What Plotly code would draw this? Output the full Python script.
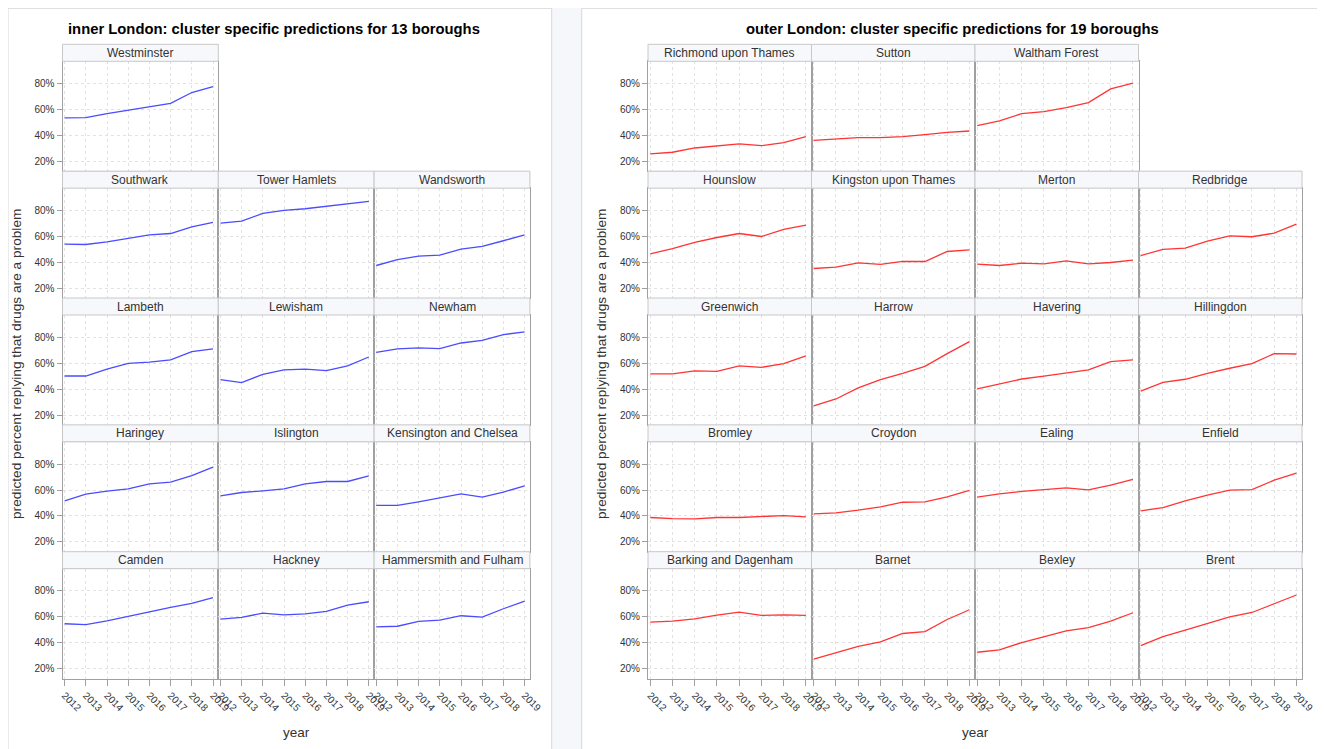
import plotly.graph_objects as go

years = [2012, 2013, 2014, 2015, 2016, 2017, 2018, 2019]
y_tick_vals = [20, 40, 60, 80]
y_tick_text = ["20%", "40%", "60%", "80%"]

# ---- inner London boroughs (predicted %) ----
westminster = [53.5, 53.7, 56.8, 59.4, 62.5, 64.8, 73.1, 77.7]
southwark = [54.0, 53.7, 55.8, 58.4, 61.2, 62.2, 67.4, 70.7]
tower_hamlets = [70.2, 71.8, 77.7, 80.0, 81.3, 83.1, 85.4, 87.0]
wandsworth = [37.5, 42.1, 44.7, 45.5, 50.1, 52.2, 56.6, 61.2]
lambeth = [50.1, 50.1, 55.5, 59.9, 60.9, 62.5, 68.9, 71.0]
lewisham = [47.3, 45.0, 51.4, 54.8, 55.5, 54.3, 57.9, 64.8]
newham = [68.4, 71.0, 71.8, 71.2, 75.6, 77.7, 82.1, 84.1]
haringey = [51.7, 56.8, 59.1, 60.9, 64.8, 66.1, 71.2, 77.7]
islington = [55.5, 58.1, 59.4, 60.9, 64.8, 66.6, 66.6, 71.0]
kensington_chelsea = [48.1, 48.1, 50.9, 54.0, 57.1, 54.5, 58.4, 63.3]
camden = [54.7, 54.1, 57.0, 60.6, 64.2, 67.3, 70.4, 74.8]
hackney = [58.3, 59.6, 62.9, 61.6, 62.4, 64.2, 69.1, 71.7]
hammersmith_fulham = [52.3, 52.8, 56.5, 57.5, 60.9, 59.8, 66.3, 72.2]

inner_names = ["Westminster", "Southwark", "Tower Hamlets", "Wandsworth",
               "Lambeth", "Lewisham", "Newham",
               "Haringey", "Islington", "Kensington and Chelsea",
               "Camden", "Hackney", "Hammersmith and Fulham"]
inner_series = [westminster, southwark, tower_hamlets, wandsworth,
                lambeth, lewisham, newham,
                haringey, islington, kensington_chelsea,
                camden, hackney, hammersmith_fulham]

# ---- outer London boroughs (predicted %) ----
richmond = [25.7, 27.0, 30.3, 31.6, 33.4, 32.1, 34.4, 39.1]
sutton = [36.2, 37.5, 38.3, 38.3, 39.1, 40.6, 42.4, 43.4]
waltham_forest = [47.6, 51.2, 56.8, 58.4, 61.5, 65.3, 75.9, 80.3]
hounslow = [46.5, 50.6, 55.3, 59.1, 62.2, 59.9, 65.3, 68.7]
kingston = [35.2, 36.2, 39.6, 38.3, 40.6, 40.6, 48.3, 49.6]
merton = [38.5, 37.5, 39.3, 38.8, 41.1, 38.8, 39.8, 41.6]
redbridge = [45.2, 49.9, 50.9, 56.3, 60.4, 59.7, 62.5, 69.4]
greenwich = [51.7, 51.7, 54.0, 53.7, 57.9, 56.8, 59.7, 65.6]
harrow = [27.0, 32.4, 40.9, 47.3, 52.2, 57.6, 67.4, 76.7]
havering = [40.1, 43.7, 47.8, 50.1, 52.2, 54.8, 61.2, 62.5]
hillingdon = [38.5, 45.2, 47.6, 52.2, 56.1, 59.7, 67.4, 67.1]
bromley = [38.8, 38.0, 37.8, 38.8, 38.8, 39.3, 40.3, 39.3]
croydon = [41.6, 42.4, 44.5, 47.0, 50.6, 50.9, 54.8, 59.7]
ealing = [54.5, 57.1, 58.9, 60.4, 61.7, 60.2, 63.8, 68.2]
enfield = [44.0, 46.5, 51.7, 56.1, 59.9, 60.4, 67.6, 73.1]
barking_dagenham = [55.9, 56.7, 58.5, 61.4, 63.7, 61.1, 61.6, 61.1]
barnet = [27.5, 32.2, 37.3, 40.7, 47.2, 48.7, 58.0, 65.5]
bexley = [32.7, 34.5, 40.2, 44.8, 49.2, 51.8, 56.7, 63.2]
brent = [37.8, 44.8, 49.7, 55.2, 60.1, 63.4, 70.4, 76.9]

outer_names = ["Richmond upon Thames", "Sutton", "Waltham Forest",
               "Hounslow", "Kingston upon Thames", "Merton", "Redbridge",
               "Greenwich", "Harrow", "Havering", "Hillingdon",
               "Bromley", "Croydon", "Ealing", "Enfield",
               "Barking and Dagenham", "Barnet", "Bexley", "Brent"]
outer_series = [richmond, sutton, waltham_forest,
                hounslow, kingston, merton, redbridge,
                greenwich, harrow, havering, hillingdon,
                bromley, croydon, ealing, enfield,
                barking_dagenham, barnet, bexley, brent]

inner_title = "inner London: cluster specific predictions for 13 boroughs"
outer_title = "outer London: cluster specific predictions for 19 boroughs"
y_title = "predicted percent replying that drugs are a problem"
x_title = "year"

# ---------------- layout geometry (page pixels) ----------------
OFF = 8  # default page body margin
W, H = 1325 - OFF, 749 - OFF
FONT = "Liberation Sans, Arial, sans-serif"


def px(x):
    return (x - OFF) / W


def py(y):
    return 1 - (y - OFF) / H


ROW_PITCH = 126.85
STRIP_TOP0 = 44.3
STRIP_H = 17
PLOT_H = 110
FRAME = "#a0a0a0"
GRID = "#e2e2e2"

fig = go.Figure()
shapes = []
annotations = []
layout_axes = {}

# backgrounds / cards
shapes.append(dict(type="rect", xref="paper", yref="paper", x0=px(552), x1=px(581.5),
                   y0=0, y1=py(7.5), fillcolor="#f6f7fb", line=dict(width=0), layer="below"))
shapes.append(dict(type="rect", xref="paper", yref="paper", x0=px(1322.5), x1=1,
                   y0=0, y1=py(7.5), fillcolor="#f6f7fb", line=dict(width=0), layer="below"))
for cx0, cx1 in [(8, 551.7), (581.7, 1322.5)]:
    shapes.append(dict(type="rect", xref="paper", yref="paper", x0=px(cx0), x1=px(cx1),
                       y0=-0.02, y1=py(8.3), fillcolor="white",
                       line=dict(color="#d8d8d8", width=1), layer="below"))

panels = []
inner_pos = [(0, 0)] + [(r, c) for r in range(1, 5) for c in range(3)]
outer_pos = [(0, c) for c in range(3)] + [(r, c) for r in range(1, 5) for c in range(4)]
for (r, c), name, vals in zip(inner_pos, inner_names, inner_series):
    panels.append(dict(r=r, c=c, name=name, vals=vals, left=62.5, cw=155.8,
                       color="#4b4bff"))
for (r, c), name, vals in zip(outer_pos, outer_names, outer_series):
    panels.append(dict(r=r, c=c, name=name, vals=vals, left=648.0, cw=163.5,
                       color="#ff3434"))

for k, p in enumerate(panels, start=1):
    x0 = p["left"] + p["c"] * p["cw"]
    x1 = x0 + p["cw"]
    st = STRIP_TOP0 + p["r"] * ROW_PITCH
    pt = st + STRIP_H
    pb = pt + PLOT_H
    xa = "xaxis" if k == 1 else f"xaxis{k}"
    ya = "yaxis" if k == 1 else f"yaxis{k}"
    xr = "x" if k == 1 else f"x{k}"
    yr = "y" if k == 1 else f"y{k}"
    bottom = p["r"] == 4
    first = p["c"] == 0
    layout_axes[xa] = dict(
        domain=[px(x0), px(x1)], anchor=yr, range=[2011.9, 2019.25],
        tickvals=years, ticktext=[str(v) for v in years],
        showticklabels=bottom, ticks="outside" if bottom else "",
        ticklen=6, tickcolor=FRAME, tickangle=45,
        tickfont=dict(family=FONT, size=10, color="#333333"),
        showgrid=True, gridcolor=GRID, griddash="dot", gridwidth=1,
        zeroline=False, showline=True, mirror=True, linecolor=FRAME, linewidth=1,
        fixedrange=True)
    layout_axes[ya] = dict(
        domain=[py(pb), py(pt)], anchor=xr, range=[12.3, 97.2],
        tickvals=y_tick_vals, ticktext=y_tick_text,
        showticklabels=first, ticks="outside" if first else "",
        ticklen=5, tickcolor=FRAME,
        tickfont=dict(family=FONT, size=10, color="#333333"),
        showgrid=True, gridcolor=GRID, griddash="dot", gridwidth=1,
        zeroline=False, showline=True, mirror=True, linecolor=FRAME, linewidth=1,
        fixedrange=True)
    fig.add_trace(go.Scatter(x=years, y=p["vals"], mode="lines", xaxis=xr, yaxis=yr,
                             line=dict(color=p["color"], width=1.3), showlegend=False,
                             name=p["name"]))
    shapes.append(dict(type="rect", xref="paper", yref="paper", x0=px(x0), x1=px(x1),
                       y0=py(pt), y1=py(st), fillcolor="#f7f8fc",
                       line=dict(color="#c8c8c8", width=1)))
    annotations.append(dict(xref="paper", yref="paper", x=px((x0 + x1) / 2),
                            y=py(st + STRIP_H / 2), text=p["name"], showarrow=False,
                            xanchor="center", yanchor="middle",
                            font=dict(family=FONT, size=12, color="#333333")))

# titles
for cx, t in [(274, inner_title), (952, outer_title)]:
    annotations.append(dict(xref="paper", yref="paper", x=px(cx), y=py(29), text=f"<b>{t}</b>",
                            showarrow=False, xanchor="center", yanchor="middle",
                            font=dict(family=FONT, size=14.8, color="#000000")))
for cx in [16, 601]:
    annotations.append(dict(xref="paper", yref="paper", x=px(cx), y=py(364), text=y_title,
                            textangle=-90, showarrow=False, xanchor="center", yanchor="middle",
                            font=dict(family=FONT, size=13.7, color="#333333")))
for cx in [296, 975]:
    annotations.append(dict(xref="paper", yref="paper", x=px(cx), y=py(732), text=x_title,
                            showarrow=False, xanchor="center", yanchor="middle",
                            font=dict(family=FONT, size=13.5, color="#333333")))

fig.update_layout(
    width=W, height=H, margin=dict(l=0, r=0, t=0, b=0),
    paper_bgcolor="white", plot_bgcolor="rgba(0,0,0,0)",
    template="none", showlegend=False,
    shapes=shapes, annotations=annotations, **layout_axes)

fig.write_html("out.html")
